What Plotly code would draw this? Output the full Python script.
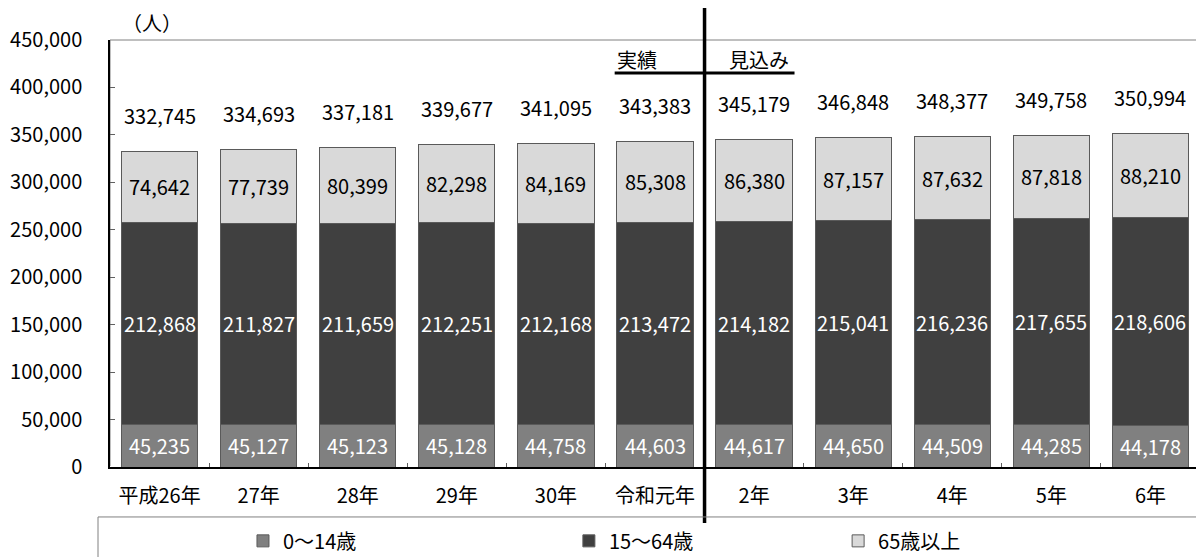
import plotly.graph_objects as go

years = ['平成26年', '27年', '28年', '29年', '30年', '令和元年',
         '2年', '3年', '4年', '5年', '6年']
age_0_14 = [45235, 45127, 45123, 45128, 44758, 44603,
            44617, 44650, 44509, 44285, 44178]
age_15_64 = [212868, 211827, 211659, 212251, 212168, 213472,
             214182, 215041, 216236, 217655, 218606]
age_65_over = [74642, 77739, 80399, 82298, 84169, 85308,
               86380, 87157, 87632, 87818, 88210]
totals = [a + b + c for a, b, c in zip(age_0_14, age_15_64, age_65_over)]
y_ticks = list(range(0, 450001, 50000))
split_after = '令和元年'  # last actual year, projections follow

font_dict = dict(family='Noto Sans CJK JP', color='black', size=20)

series = [
    ('0～14歳', age_0_14, '#808080', 'white', 'legend'),
    ('15～64歳', age_15_64, '#404040', 'white', 'legend2'),
    ('65歳以上', age_65_over, '#d9d9d9', 'black', 'legend3'),
]

fig = go.Figure()
base = [0] * len(years)
for name, vals, color, tcolor, leg in series:
    fig.add_trace(go.Bar(
        x=years, y=vals, name=name, legend=leg, showlegend=True,
        marker=dict(color=color, line=dict(color='#5a5a5a', width=1)),
        hoverinfo='skip'))
    # segment labels (inside text of bars gets shrunk, so use annotations)
    for yr, b, v in zip(years, base, vals):
        fig.add_annotation(x=yr, y=b + v / 2, text=f'{v:,}', showarrow=False,
                           font=dict(family='Noto Sans CJK JP', size=20,
                                     color=tcolor))
    base = [b + v for b, v in zip(base, vals)]

# totals above the stacks
for yr, tot in zip(years, totals):
    fig.add_annotation(x=yr, y=tot, text=f'{tot:,}', showarrow=False,
                       yshift=36, font=font_dict)

# divider between actual and projected
n = len(years)
xs = (years.index(split_after) + 1) / n
fig.add_shape(type='line', xref='paper', yref='paper', x0=xs, x1=xs,
              y0=1.075, y1=-0.131, line=dict(color='black', width=3.5))
fig.add_shape(type='line', xref='paper', yref='paper', x0=0.463, x1=0.628,
              y0=0.923, y1=0.923, line=dict(color='black', width=3))
fig.add_annotation(xref='paper', yref='paper', x=xs - 0.062, y=0.955,
                   yanchor='middle', text='実績', showarrow=False,
                   font=font_dict)
fig.add_annotation(xref='paper', yref='paper', x=xs + 0.05, y=0.955,
                   yanchor='middle', text='見込み', showarrow=False,
                   font=font_dict)
fig.add_annotation(xref='paper', yref='paper', x=0.009, y=1.042,
                   xanchor='left', yanchor='middle', text='（人）',
                   showarrow=False, font=font_dict)

# plot frame (grey top/right) and legend box
fig.add_shape(type='rect', xref='paper', yref='paper', x0=0, x1=1,
              y0=0, y1=1, line=dict(color='#808080', width=1), layer='below')
fig.add_shape(type='rect', xref='paper', yref='paper', x0=-0.011, x1=1,
              y0=-0.117, y1=-0.25, line=dict(color='#808080', width=1))

leg_common = dict(orientation='h', yanchor='middle', y=-0.173,
                  xanchor='left', bgcolor='rgba(0,0,0,0)',
                  font=font_dict, itemwidth=30)
# the page body adds an 8px offset, so the figure is 8px smaller
fig.update_layout(
    barmode='stack', bargap=0.23, showlegend=True,
    font=font_dict, plot_bgcolor='white', paper_bgcolor='white',
    width=1196, height=549,
    margin=dict(l=102, r=4, t=32, b=90, autoexpand=False),
    legend=dict(x=0.122, **leg_common),
    legend2=dict(x=0.421, **leg_common),
    legend3=dict(x=0.668, **leg_common),
)
fig.update_yaxes(range=[0, 450000], tickvals=y_ticks, tickformat=',',
                 showgrid=False, showline=True, linecolor='black',
                 linewidth=1.5, ticks='inside', ticklen=5, automargin=False,
                 tickcolor='#606060', ticklabelstandoff=22, tickfont=font_dict)
fig.update_xaxes(showgrid=False, showline=True, linecolor='black',
                 linewidth=1.5, ticks='inside', ticklen=4, automargin=False,
                 tickson='boundaries', tickcolor='#606060',
                 ticklabelstandoff=10, tickfont=font_dict)

fig.write_html('out.html')
